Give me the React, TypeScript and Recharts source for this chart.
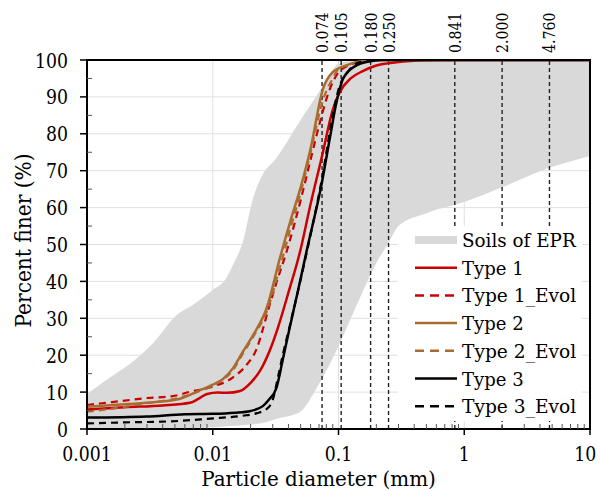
import React from 'react';
import {
  ComposedChart, Area, Line, XAxis, YAxis, CartesianGrid,
  ReferenceLine, ReferenceArea, Legend,
} from 'recharts';

const FONT = 'DejaVu Serif';
const RED = '#cc0000';
const BROWN = '#a96c30';
const BLACK = '#000000';
const BAND = '#d9d9d9';

// Soils of EPR envelope
const bandX = [0.001, 0.0015, 0.0024, 0.0035, 0.005, 0.0072, 0.01, 0.0125, 0.015, 0.0171, 0.0209, 0.0237, 0.0325, 0.0494, 0.0675, 0.085, 0.1, 0.15, 0.2, 0.25, 0.3, 0.5, 1, 2, 4.5, 10];
const bandHigh = [9.5, 13.8, 18.7, 24, 30.4, 34, 37.7, 40.4, 45.5, 50, 62.5, 67.5, 73.7, 83.5, 90.5, 96, 99, 100, 100, 100, 100, 100, 100, 100, 100, 100];
const bandLow = [0, 0, 0, 0, 0, 0.2, 0.5, 0.7, 0.9, 1.0, 1.3, 1.5, 2.8, 4.6, 11.3, 17.5, 22.5, 36, 45, 50.5, 55, 58.5, 61.5, 65.5, 70.5, 74];

// Type 1
const t1X = [0.001, 0.002, 0.004, 0.0066, 0.0078, 0.009, 0.011, 0.013, 0.0165, 0.02, 0.024, 0.0285, 0.033, 0.04, 0.0494, 0.06, 0.074, 0.09, 0.103, 0.125, 0.156, 0.2, 0.29, 0.5, 1, 10];
const t1Y = [5.3, 5.9, 6.4, 7.1, 8.3, 9.5, 9.9, 9.8, 10.3, 12.5, 16, 21.4, 27.5, 37, 48, 61, 74, 86.5, 91.5, 95, 97, 98.5, 99.4, 99.9, 100, 100];
// Type 1_Evol
const t1eX = [0.001, 0.002, 0.003, 0.0048, 0.0066, 0.01, 0.0145, 0.0187, 0.0225, 0.025, 0.028, 0.032, 0.039, 0.05, 0.059, 0.071, 0.085, 0.097, 0.12, 0.15, 0.2, 1, 10];
const t1eY = [6.5, 7.7, 8.4, 8.9, 10.1, 11.5, 14, 17.5, 22, 27, 33, 39.5, 48.5, 62, 72, 83, 92, 96, 98.5, 99.5, 100, 100, 100];
// Type 2
const t2X = [0.001, 0.002, 0.0035, 0.0055, 0.0083, 0.01, 0.012, 0.0145, 0.0174, 0.021, 0.027, 0.034, 0.042, 0.05, 0.06, 0.075, 0.09, 0.117, 0.16, 0.25, 1, 10];
const t2Y = [6.0, 6.7, 7.3, 8.2, 10.8, 12, 13.5, 16.5, 21, 25.5, 33, 46, 57, 65.5, 76, 92, 96.7, 98.6, 99.8, 100, 100, 100];
// Type 2_Evol
const t2eX = [0.001, 0.002, 0.003, 0.005, 0.0083, 0.01, 0.0145, 0.0174, 0.021, 0.027, 0.034, 0.042, 0.05, 0.06, 0.075, 0.09, 0.1, 0.13, 0.2, 1, 10];
const t2eY = [4.7, 6.0, 7.0, 8.2, 10.6, 11.8, 16, 20.5, 25, 32, 43.5, 55, 64, 75, 89, 95, 97.5, 99, 100, 100, 100];
// Type 3
const t3X = [0.001, 0.003, 0.006, 0.01, 0.015, 0.02, 0.025, 0.028, 0.032, 0.036, 0.041, 0.048, 0.056, 0.074, 0.0855, 0.097, 0.109, 0.14, 0.17, 0.22, 1, 10];
const t3Y = [3.1, 3.4, 4.0, 4.1, 4.4, 4.9, 6.2, 8, 11, 18.7, 27.6, 38, 48.5, 67, 79, 89, 95, 98.6, 99.5, 100, 100, 100];
// Type 3_Evol
const t3eX = [0.001, 0.002, 0.004, 0.0055, 0.008, 0.0114, 0.0174, 0.0225, 0.027, 0.03, 0.033, 0.036, 0.041, 0.056, 0.074, 0.09, 0.1, 0.12, 0.15, 0.2, 1, 10];
const t3eY = [1.5, 1.8, 2.0, 2.2, 2.6, 3.0, 3.6, 4.3, 5.5, 7.9, 14, 20, 28, 48, 68, 85, 92, 97, 99.5, 100, 100, 100];

// Sieve lines
const sieveSizes = [0.074, 0.105, 0.18, 0.25, 0.841, 2.0, 4.76];
const sieveLabels = ['0.074', '0.105', '0.180', '0.250', '0.841', '2.000', '4.760'];

// Axes
const xMajorTicks = [0.001, 0.01, 0.1, 1, 10];
const xMinorMultipliers = [2, 3, 4, 5, 6, 7, 8, 9];
const yMajorTicks = [0, 10, 20, 30, 40, 50, 60, 70, 80, 90, 100];
const yMinorTicks = [5, 15, 25, 35, 45, 55, 65, 75, 85, 95];
const gridY = [10, 20, 30, 40, 50, 60, 70, 80, 90];
const gridX = [0.01, 0.1, 1];

const xTicks: number[] = [];
xMajorTicks.forEach((m, i) => {
  xTicks.push(m);
  if (i < xMajorTicks.length - 1) xMinorMultipliers.forEach((k) => xTicks.push(+(m * k).toPrecision(6)));
});
const yTicks = [...yMajorTicks, ...yMinorTicks].sort((a, b) => a - b);

const zip = (xs: number[], ys: number[]) => xs.map((x, i) => ({ x, y: ys[i] }));
const bandData = bandX.map((x, i) => ({ x, range: [bandLow[i], bandHigh[i]] }));

const series = [
  { name: 'Type 1', data: zip(t1X, t1Y), color: RED, dash: undefined },
  { name: 'Type 1_Evol', data: zip(t1eX, t1eY), color: RED, dash: '7 5' },
  { name: 'Type 2', data: zip(t2X, t2Y), color: BROWN, dash: undefined },
  { name: 'Type 2_Evol', data: zip(t2eX, t2eY), color: BROWN, dash: '7 5' },
  { name: 'Type 3', data: zip(t3X, t3Y), color: BLACK, dash: undefined },
  { name: 'Type 3_Evol', data: zip(t3eX, t3eY), color: BLACK, dash: '7 5' },
];

// Times-like advance widths (em), used to fit the serif text to the reference widths
const TW: Record<string, number> = {
  '.': 0.25, ' ': 0.25, '_': 0.5, '(': 0.333, ')': 0.333, '%': 0.833,
  a: 0.444, c: 0.444, d: 0.5, e: 0.444, f: 0.333, i: 0.278, l: 0.278, m: 0.778, n: 0.5,
  o: 0.5, p: 0.5, r: 0.333, s: 0.389, t: 0.278, v: 0.5, y: 0.5,
  E: 0.611, P: 0.556, R: 0.667, S: 0.556, T: 0.611,
};
const tw = (s: string, size: number) => [...s].reduce((a, c) => a + (TW[c] ?? 0.5), 0) * size;

const isMajorX = (v: number) => xMajorTicks.some((m) => Math.abs(m - v) / m < 1e-6);

const XTick = (props: any) => {
  const { x, y, payload } = props;
  const v = payload.value;
  const major = isMajorX(v);
  const s = String(v);
  const len = tw(s, 22);
  const natural = s.length * 0.64 * 20;
  const half = Math.max(len, natural) / 2;
  const tx = Math.min(x, 598 - half);
  return (
    <g>
      {major ? (
        <line x1={x} x2={x} y1={y} y2={y + 6} stroke="#000" strokeWidth={1.5} />
      ) : (
        <line x1={x} x2={x} y1={y} y2={y - 5} stroke="#555" strokeWidth={1} />
      )}
      {major && (
        <text x={tx} y={y + 32} textAnchor="middle" fontFamily={FONT} fontSize={20} fill="#000"
          textLength={len} lengthAdjust="spacingAndGlyphs">
          {s}
        </text>
      )}
    </g>
  );
};

const YTick = (props: any) => {
  const { x, y, payload } = props;
  const v = payload.value;
  const major = v % 10 === 0;
  const s = String(v);
  return (
    <g>
      {major ? (
        <line x1={x - 7} x2={x} y1={y} y2={y} stroke="#000" strokeWidth={1.5} />
      ) : (
        <line x1={x} x2={x + 5} y1={y} y2={y} stroke="#555" strokeWidth={1} />
      )}
      {major && (
        <text x={x - 19} y={y + 7.5} textAnchor="end" fontFamily={FONT} fontSize={20.5} fill="#000"
          textLength={tw(s, 22)} lengthAdjust="spacingAndGlyphs">
          {s}
        </text>
      )}
    </g>
  );
};

const SieveLabel = (text: string) => (props: any) => {
  const vb = props.viewBox || {};
  const x = vb.x + 6;
  const y = vb.y - 7;
  return (
    <text x={x} y={y} transform={`rotate(-90 ${x} ${y})`} textAnchor="start" fontFamily={FONT} fontSize={16.5} fill="#000"
      textLength={tw(text, 18)} lengthAdjust="spacingAndGlyphs">
      {text}
    </text>
  );
};

const Y_TITLE = 'Percent finer (%)';
const X_TITLE = 'Particle diameter (mm)';

const YTitle = (props: any) => {
  const vb = props.viewBox || {};
  const cx = vb.x - 4;
  const cy = vb.y + vb.height / 2 - 4;
  return (
    <text x={cx} y={cy} transform={`rotate(-90 ${cx} ${cy})`} textAnchor="middle" dominantBaseline="central" fontFamily={FONT} fontSize={23} fill="#000"
      textLength={tw(Y_TITLE, 25.3)} lengthAdjust="spacingAndGlyphs">
      {Y_TITLE}
    </text>
  );
};

const XTitle = (props: any) => {
  const vb = props.viewBox || {};
  return (
    <text x={vb.x + vb.width / 2 - 20} y={vb.y + vb.height - 5} textAnchor="middle" fontFamily={FONT} fontSize={21} fill="#000"
      textLength={tw(X_TITLE, 25.3)} lengthAdjust="spacingAndGlyphs">
      {X_TITLE}
    </text>
  );
};

const legendItems = [
  { name: 'Soils of EPR', color: BAND, width: 8, dash: undefined as string | undefined },
  ...series.map((s) => ({ name: s.name, color: s.color, width: 2.5, dash: s.dash ? '9 6' : undefined })),
];

const LEG_W = 184;
const LEG_H = 195;
const renderLegend = () => (
  <div style={{ width: LEG_W, height: LEG_H, background: '#fff', overflow: 'visible' }}>
    <svg width={LEG_W} height={LEG_H} style={{ display: 'block', overflow: 'visible' }}>
      {legendItems.map((it, i) => {
        const cy = 14 + i * 27.7;
        return (
          <g key={it.name}>
            <line x1={17} x2={59} y1={cy} y2={cy} stroke={it.color} strokeWidth={it.width} strokeDasharray={it.dash} />
            <text x={64} y={cy + 7} fontFamily={FONT} fontSize={19} fill="#000"
              textLength={tw(it.name, 22)} lengthAdjust="spacingAndGlyphs">
              {it.name}
            </text>
          </g>
        );
      })}
    </svg>
  </div>
);

export default function App() {
  return (
    <div style={{ position: 'absolute', left: 0, top: 0, width: 600, height: 491, background: '#fff' }}>
      <ComposedChart width={600} height={491} margin={{ top: 60, right: 10, bottom: 0, left: 27 }}>
        <CartesianGrid stroke="#e0e0e0" strokeWidth={1} horizontalValues={gridY} verticalValues={gridX} />
        <XAxis
          dataKey="x"
          type="number"
          scale="log"
          domain={[0.001, 10]}
          allowDataOverflow
          ticks={xTicks}
          interval={0}
          tickSize={0}
          tickMargin={0}
          tickLine={false}
          tick={XTick}
          height={62}
          axisLine={{ stroke: '#000', strokeWidth: 2 }}
          label={{ content: XTitle }}
        />
        <YAxis
          type="number"
          domain={[0, 100]}
          allowDataOverflow
          ticks={yTicks}
          interval={0}
          tickSize={0}
          tickMargin={0}
          tickLine={false}
          tick={YTick}
          width={60}
          axisLine={{ stroke: '#000', strokeWidth: 2 }}
          label={{ content: YTitle }}
        />
        <Area
          data={bandData}
          dataKey="range"
          type="monotone"
          stroke="none"
          fill={BAND}
          fillOpacity={1}
          isAnimationActive={false}
          name="Soils of EPR"
        />
        {sieveSizes.map((s, i) => (
          <ReferenceLine
            key={s}
            x={s}
            stroke="#222"
            strokeWidth={1.4}
            strokeDasharray="4 3"
            label={SieveLabel(sieveLabels[i])}
          />
        ))}
        {series.map((s) => (
          <Line
            key={s.name}
            data={s.data}
            dataKey="y"
            name={s.name}
            type="monotone"
            stroke={s.color}
            strokeWidth={s.dash ? 2.2 : 2.5}
            strokeDasharray={s.dash}
            dot={false}
            activeDot={false}
            isAnimationActive={false}
          />
        ))}
        <ReferenceArea x1={0.001} x2={10} y1={0} y2={100} fill="none" fillOpacity={0} stroke="#000" strokeWidth={2} ifOverflow="visible" />
        <Legend
          layout="vertical"
          verticalAlign="middle"
          align="center"
          content={renderLegend}
          wrapperStyle={{ position: 'absolute', left: 398, top: 226, width: LEG_W, height: LEG_H, background: '#fff', overflow: 'visible' }}
        />
      </ComposedChart>
    </div>
  );
}
